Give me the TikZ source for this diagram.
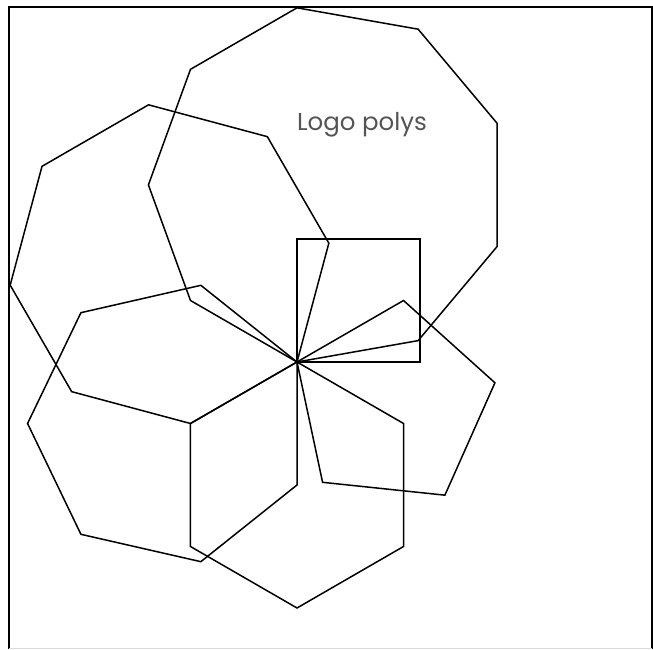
\documentclass[tikz,border=0pt]{standalone}
\usepackage{fontspec}
\setmainfont{Poppins}
\begin{document}
\begin{tikzpicture}[x=1pt,y=1pt,
  poly/.style={draw=black,line width=1.5pt,line join=miter},
  frame/.style={draw=black,line width=1.6pt}]
\useasboundingbox (0,0) rectangle (653,650);
\draw[frame] (9,1) -- (9,643) -- (652,643) -- (652,1);
\draw[black!15,line width=1pt] (9,1) -- (652,1);
\coordinate (C) at (297,288);
\foreach \n/\h in {4/90,5/30,6/-30,7/-90,8/-150,9/-210}{
  \draw[poly] (C) \foreach \k in {1,...,\n}{ -- ++({\h-(\k-1)*360/\n}:123) } -- cycle;
}
\node[text=black!67,font=\fontsize{24.5}{28}\selectfont] (title) at (362,525) {Logo polys};
\end{tikzpicture}
\end{document}
